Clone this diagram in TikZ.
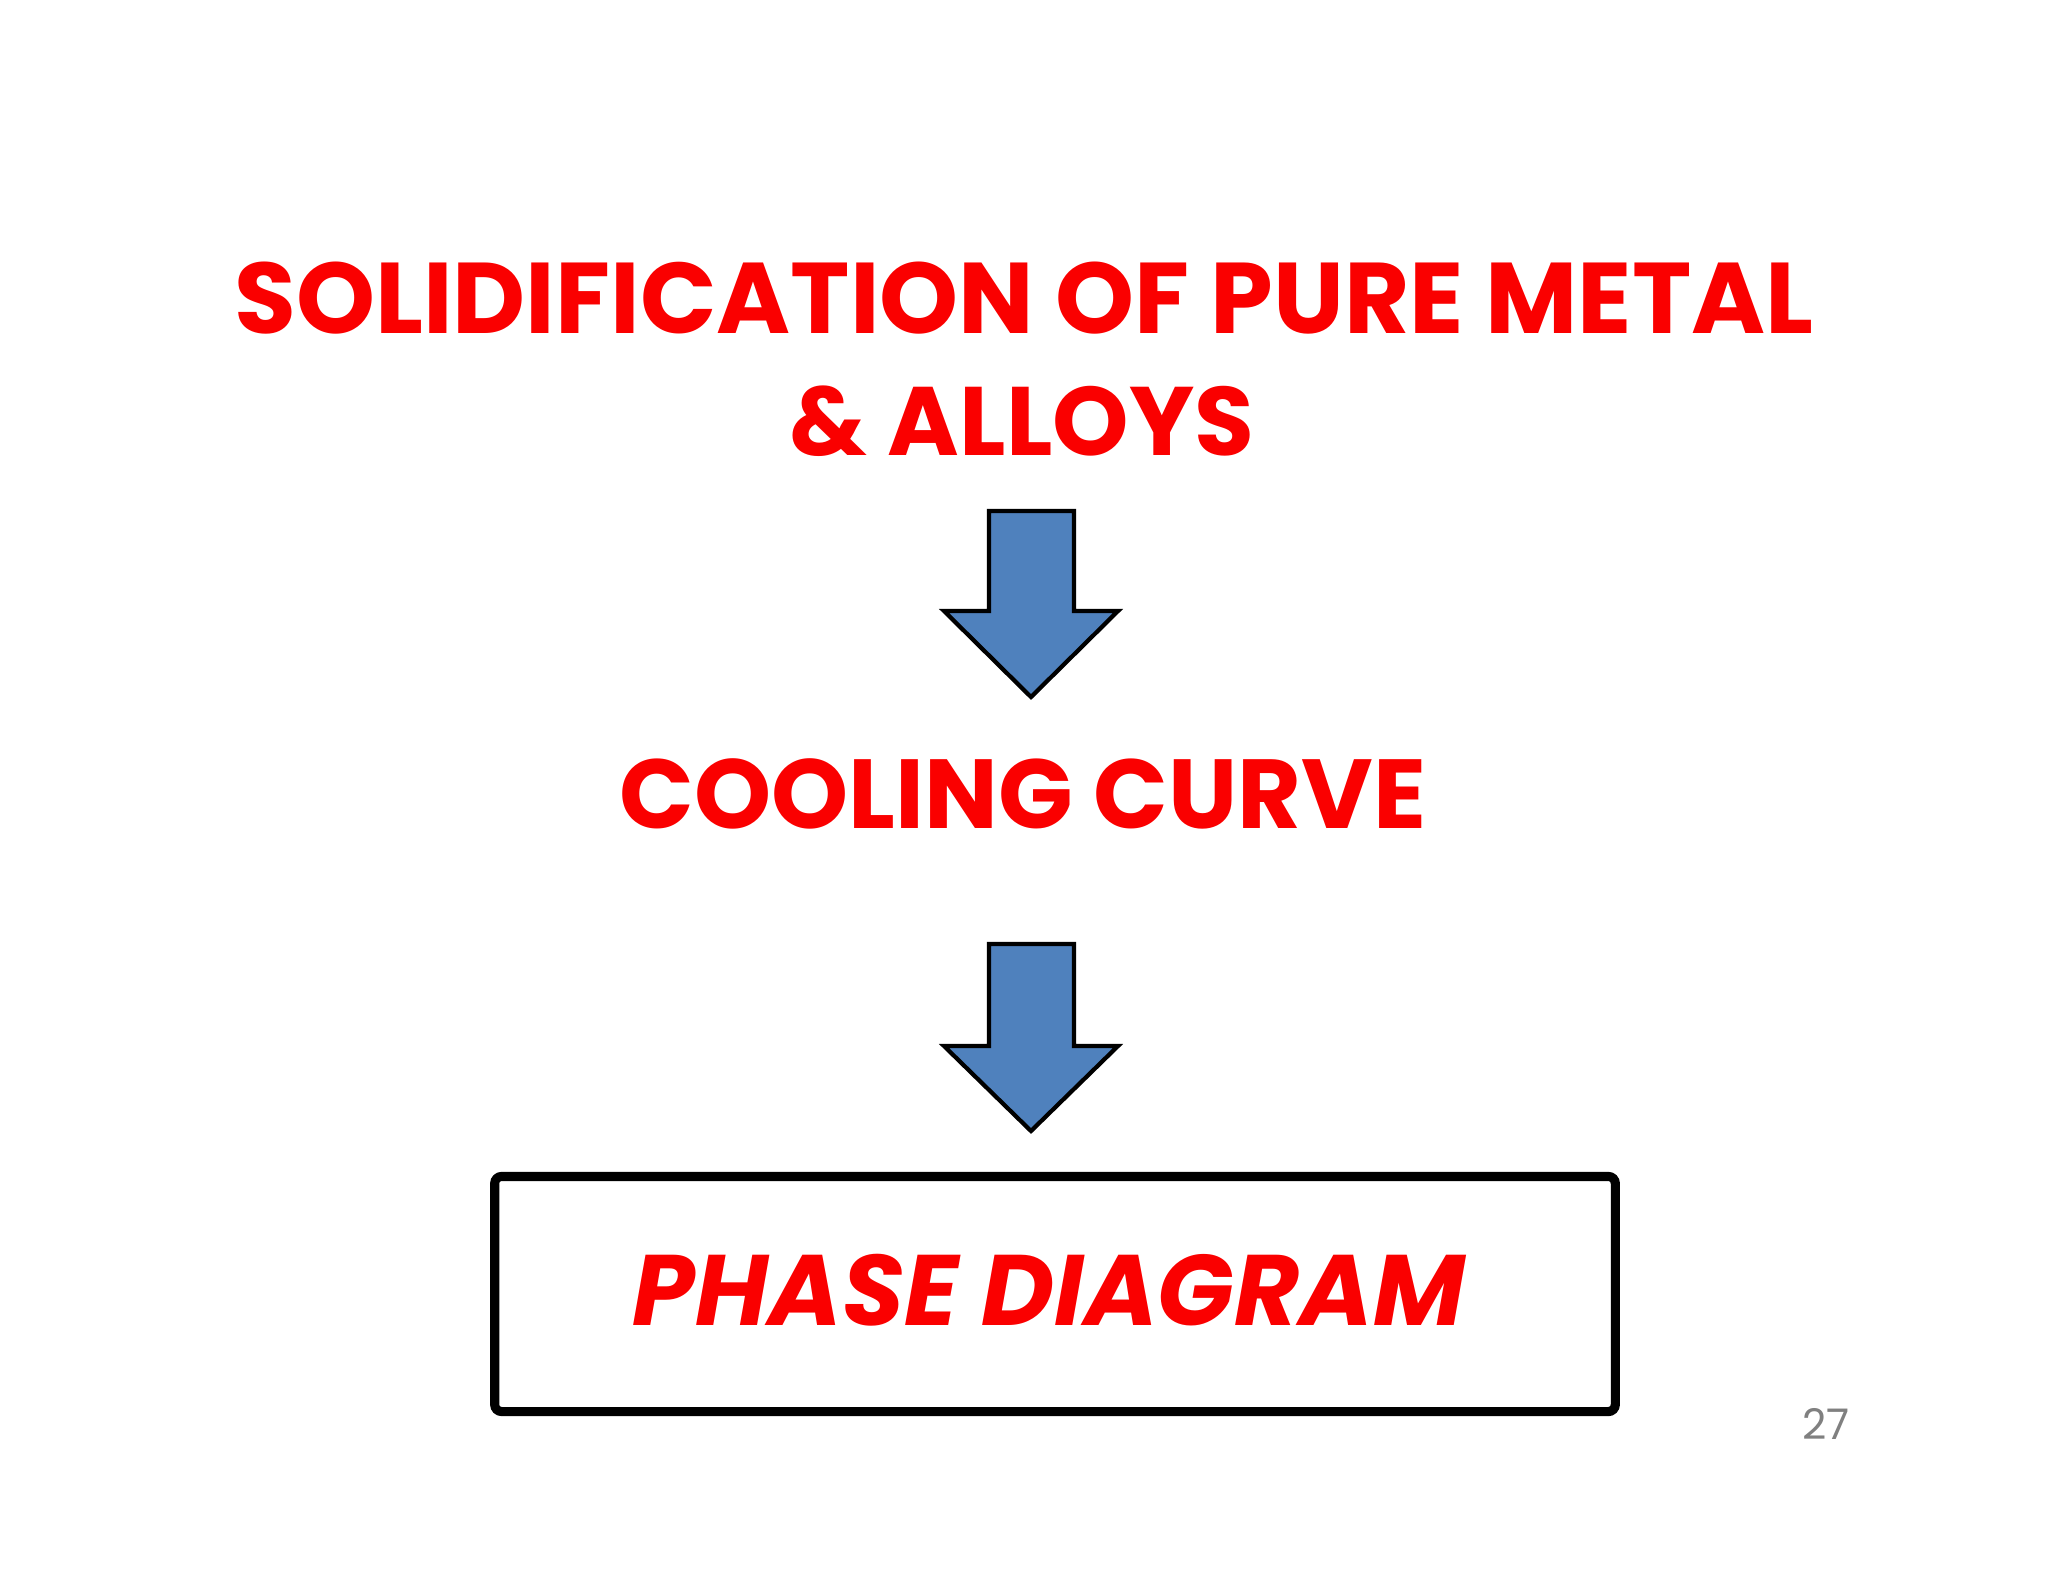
\documentclass[tikz,border=0pt]{standalone}
\usepackage{fontspec}
\setmainfont{Poppins}
\usepackage{graphicx}
\definecolor{tred}{RGB}{250,0,0}
\definecolor{ablue}{RGB}{79,129,189}
\begin{document}
\begin{tikzpicture}[x=0.01cm,y=-0.01cm,
  title/.style={text=tred,font=\bfseries,inner sep=0},
  arrowshape/.style={fill=ablue,draw=black,line width=1.2pt}]
\useasboundingbox (0,0) rectangle (2048,1582);
\node[title] (t1) at (1024,298) {\resizebox{15.78cm}{!}{SOLIDIFICATION OF PURE METAL}};
\node[title] (t2) at (1022,421) {\resizebox{4.64cm}{!}{\& ALLOYS}};
\draw[arrowshape] (989,511) -- (1074,511) -- (1074,611) -- (1118,611) -- (1031,697) -- (944,611) -- (989,611) -- cycle;
\node[title] (t3) at (1023,794) {\resizebox{8.06cm}{!}{COOLING CURVE}};
\draw[arrowshape] (989,944) -- (1074,944) -- (1074,1046) -- (1118,1046) -- (1031,1131) -- (944,1046) -- (989,1046) -- cycle;
\node[draw=black,line width=2.6pt,minimum width=11.2cm,minimum height=2.35cm,rounded corners=2pt] (box) at (1055,1294) {};
\node[title] (t4) at (1049,1290) {\resizebox{8.32cm}{!}{\itshape PHASE DIAGRAM}};
\node[text=gray,font=\large] (pg) at (1826,1424) {27};
\end{tikzpicture}
\end{document}
